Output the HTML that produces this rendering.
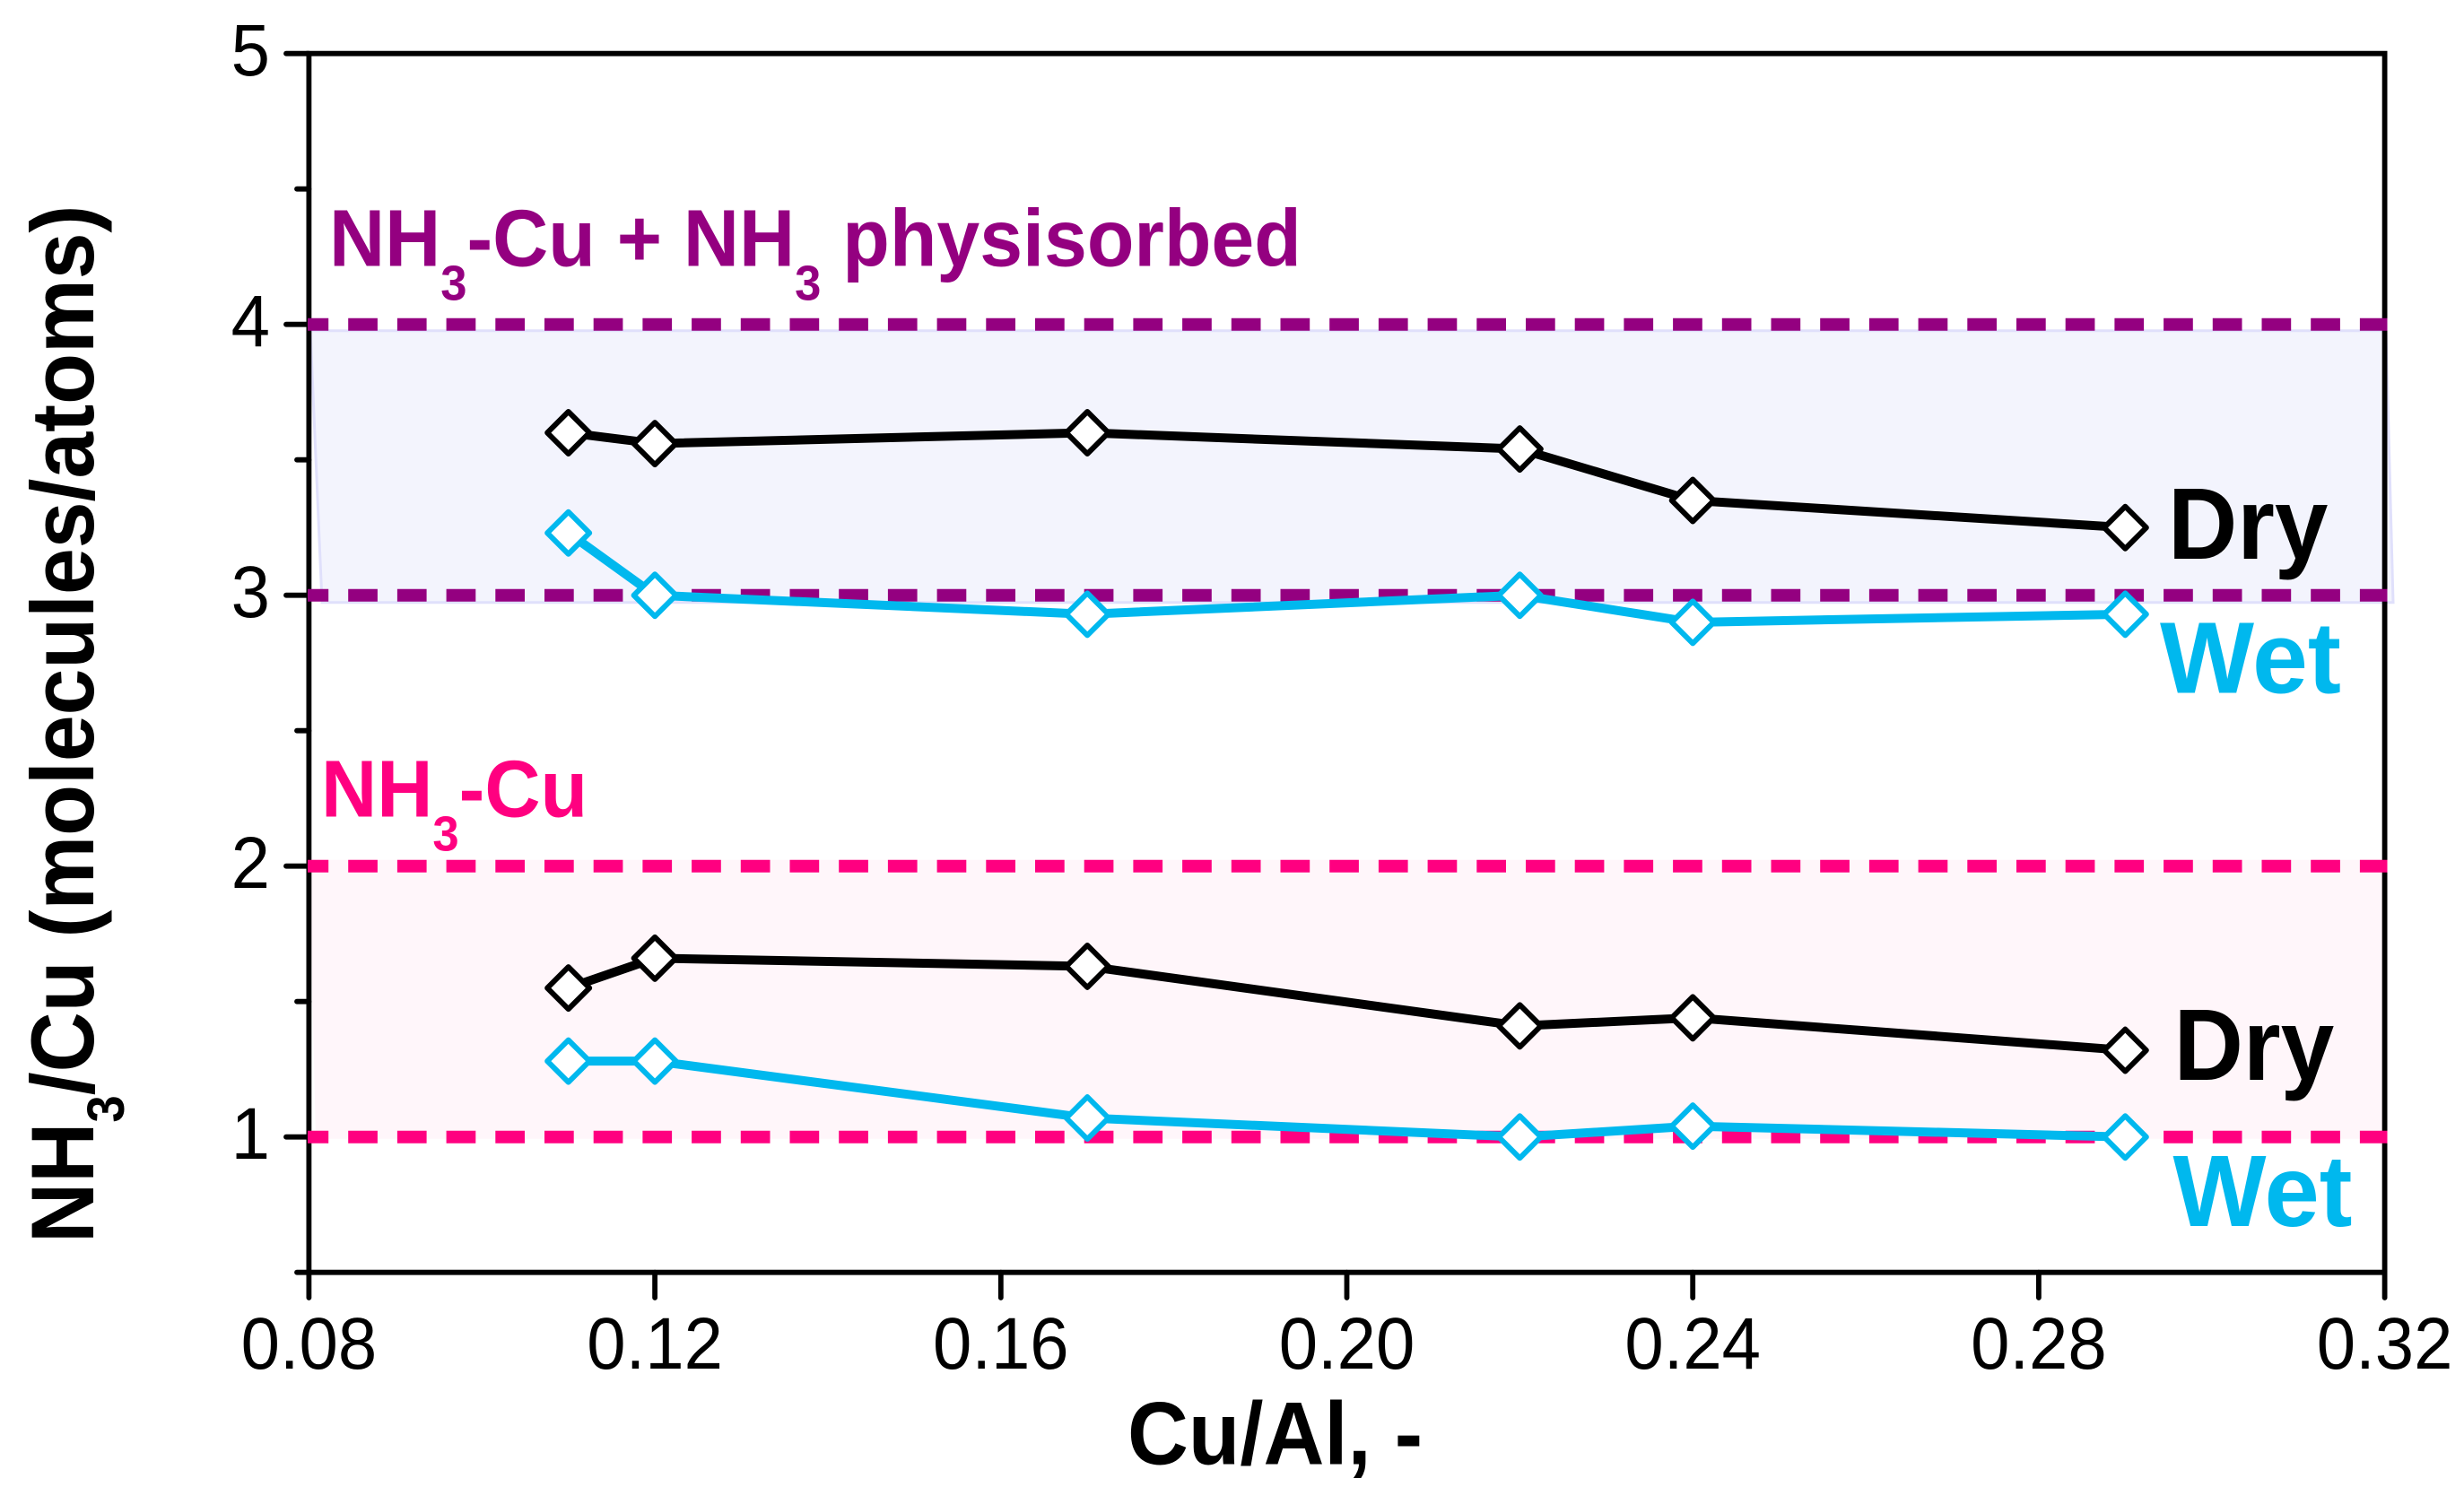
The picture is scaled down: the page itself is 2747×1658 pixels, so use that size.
<!DOCTYPE html>
<html lang="en">
<head>
<meta charset="utf-8">
<title>NH3/Cu versus Cu/Al</title>
<style>
html,body{margin:0;padding:0;background:#fff;}
svg{display:block;}
text{font-family:"Liberation Sans",Arial,sans-serif;}
.b{font-weight:700;}
</style>
</head>
<body>
<svg id="chart" xmlns="http://www.w3.org/2000/svg" width="2747" height="1658" viewBox="0 0 2747 1658">
  <defs>
    <clipPath id="dash-clip"><rect x="343" y="0" width="2318.5" height="1658"/></clipPath>
  </defs>
  <rect x="0" y="0" width="2747" height="1658" fill="#ffffff"/>
  <g id="bands"></g>
  <g id="axes"></g>
  <g id="refs" clip-path="url(#dash-clip)"></g>
  <g id="series"></g>
  <g id="ticklabels" font-size="82" fill="#000"></g>

  <text class="b" fill="#000" font-size="99" transform="translate(104,1386) rotate(-90) scale(0.94,1)">NH<tspan font-size="58" dy="34">3</tspan><tspan dy="-34">/Cu (molecules/atoms)</tspan></text>
  <text class="b" fill="#000" font-size="99" transform="translate(1257,1632.7) scale(0.95,1)">Cu/Al, -</text>

  <text class="b" fill="#940080" font-size="90" transform="translate(367,296.7) scale(0.956,1)">NH<tspan font-size="55" dy="38">3</tspan><tspan dy="-38">-Cu + NH</tspan><tspan font-size="55" dy="38">3</tspan><tspan dy="-38"> physisorbed</tspan></text>
  <text class="b" fill="#ff0080" font-size="90" transform="translate(358,910.7) scale(0.957,1)">NH<tspan font-size="55" dy="38">3</tspan><tspan dy="-38">-Cu</tspan></text>

  <text class="b" fill="#000" font-size="113" transform="translate(2417,623) scale(0.947,1)">Dry</text>
  <text class="b" fill="#00b8ee" font-size="113" transform="translate(2408,772.7) scale(0.985,1)">Wet</text>
  <text class="b" fill="#000" font-size="113" transform="translate(2423.5,1204) scale(0.949,1)">Dry</text>
  <text class="b" fill="#00b8ee" font-size="113" transform="translate(2422.5,1367) scale(0.975,1)">Wet</text>

<script>
const cuAlRatios = [0.11, 0.12, 0.17, 0.22, 0.24, 0.29];
const dryUpper = [3.60, 3.56, 3.60, 3.54, 3.35, 3.25];
const wetUpper = [3.23, 3.00, 2.93, 3.00, 2.90, 2.93];
const dryLower = [1.55, 1.66, 1.63, 1.41, 1.44, 1.32];
const wetLower = [1.28, 1.28, 1.07, 1.00, 1.04, 1.00];
const xTickValues = [0.08, 0.12, 0.16, 0.20, 0.24, 0.28, 0.32];
const xTickLabels = ["0.08", "0.12", "0.16", "0.20", "0.24", "0.28", "0.32"];
const yMajorTicks = [1, 2, 3, 4, 5];
const yMinorTicks = [0.5, 1.5, 2.5, 3.5, 4.5];
const upperRefLevels = [4, 3];
const lowerRefLevels = [2, 1];

const NS = "http://www.w3.org/2000/svg";
const plotLeft = 344.4, plotRight = 2658.6, yAtFive = 59.7, pxPerUnit = 302.0;
const xPos = v => plotLeft + (v - 0.08) / 0.24 * (plotRight - plotLeft);
const yPos = v => yAtFive + (5 - v) * pxPerUnit;

function make(parent, tag, attrs) {
  const el = document.createElementNS(NS, tag);
  for (const k in attrs) el.setAttribute(k, attrs[k]);
  parent.appendChild(el);
  return el;
}

const bands = document.getElementById("bands");
const axes = document.getElementById("axes");
const refs = document.getElementById("refs");
const series = document.getElementById("series");
const tickLabels = document.getElementById("ticklabels");

/* shaded bands */
const upperBand = make(bands, "polygon", {
  points: [[346, yPos(upperRefLevels[0]) + 7], [2660, yPos(upperRefLevels[0]) + 7], [2668, yPos(upperRefLevels[1]) + 8], [359, yPos(upperRefLevels[1]) + 8]].join(" "),
  fill: "#f3f4fd", stroke: "#e0e0fb", "stroke-width": 3
});



const lowerBand = make(bands, "polygon", {
  points: [[345, yPos(lowerRefLevels[0]) - 7], [2657, yPos(lowerRefLevels[0]) - 7], [2657, yPos(lowerRefLevels[1]) + 2], [352, yPos(lowerRefLevels[1]) + 2]].join(" "),
  fill: "#fff6fa"
});



/* frame */
const frame = make(axes, "path", {
  d: `M${plotLeft} ${yPos(5)}H${plotRight}V${yPos(0.5)}H${plotLeft}Z`,
  fill: "none", stroke: "#000", "stroke-width": 5.8
});



/* y ticks */
yMajorTicks.forEach(v => {
  const t = make(axes, "line", { x1: plotLeft, x2: 319, y1: yPos(v), y2: yPos(v), stroke: "#000", "stroke-width": 5.8, "stroke-linecap": "round" });
  
  
  const l = make(tickLabels, "text", { transform: `translate(301,${yPos(v) + 24.5}) scale(0.95,1)`, "text-anchor": "end" });
  l.textContent = String(v);
  
  
});
yMinorTicks.forEach(v => {
  const t = make(axes, "line", { x1: plotLeft, x2: 331, y1: yPos(v), y2: yPos(v), stroke: "#000", "stroke-width": 5.8, "stroke-linecap": "round" });
  
  
});

/* x ticks */
xTickValues.forEach((v, i) => {
  const t = make(axes, "line", { x1: xPos(v), x2: xPos(v), y1: yPos(0.5), y2: 1447, stroke: "#000", "stroke-width": 5.8, "stroke-linecap": "round" });
  
  
  const l = make(tickLabels, "text", { transform: `translate(${xPos(v)},1526) scale(0.95,1)`, "text-anchor": "middle" });
  l.textContent = xTickLabels[i];
  
  
});

/* dashed reference lines */
function refLine(level, colour) {
  const r = make(refs, "line", {
    x1: 333.5, x2: 2670, y1: yPos(level), y2: yPos(level),
    stroke: colour, "stroke-width": 14, "stroke-dasharray": "32.7 22"
  });
  
  
}
upperRefLevels.forEach(v => refLine(v, "#940080"));
lowerRefLevels.forEach(v => refLine(v, "#ff0080"));

/* data series */
function drawSeries(values, colour, name) {
  const g = make(series, "g", {});
  
  
  const pts = values.map((v, i) => xPos(cuAlRatios[i]) + "," + yPos(v)).join(" ");
  const line = make(g, "polyline", { points: pts, fill: "none", stroke: colour, "stroke-width": 10, "stroke-linejoin": "round" });
  
  
  values.forEach((v, i) => {
    const cx = xPos(cuAlRatios[i]), cy = yPos(v), r = 23.5;
    const m = make(g, "polygon", {
      points: `${cx - r},${cy} ${cx},${cy - r} ${cx + r},${cy} ${cx},${cy + r}`,
      fill: "#fff", stroke: colour, "stroke-width": 6, "stroke-linejoin": "round"
    });
    
    
  });
}
drawSeries(dryUpper, "#000000", "dry-upper");
drawSeries(wetUpper, "#00b8ee", "wet-upper");
drawSeries(dryLower, "#000000", "dry-lower");
drawSeries(wetLower, "#00b8ee", "wet-lower");
</script>
</svg>
</body>
</html>
